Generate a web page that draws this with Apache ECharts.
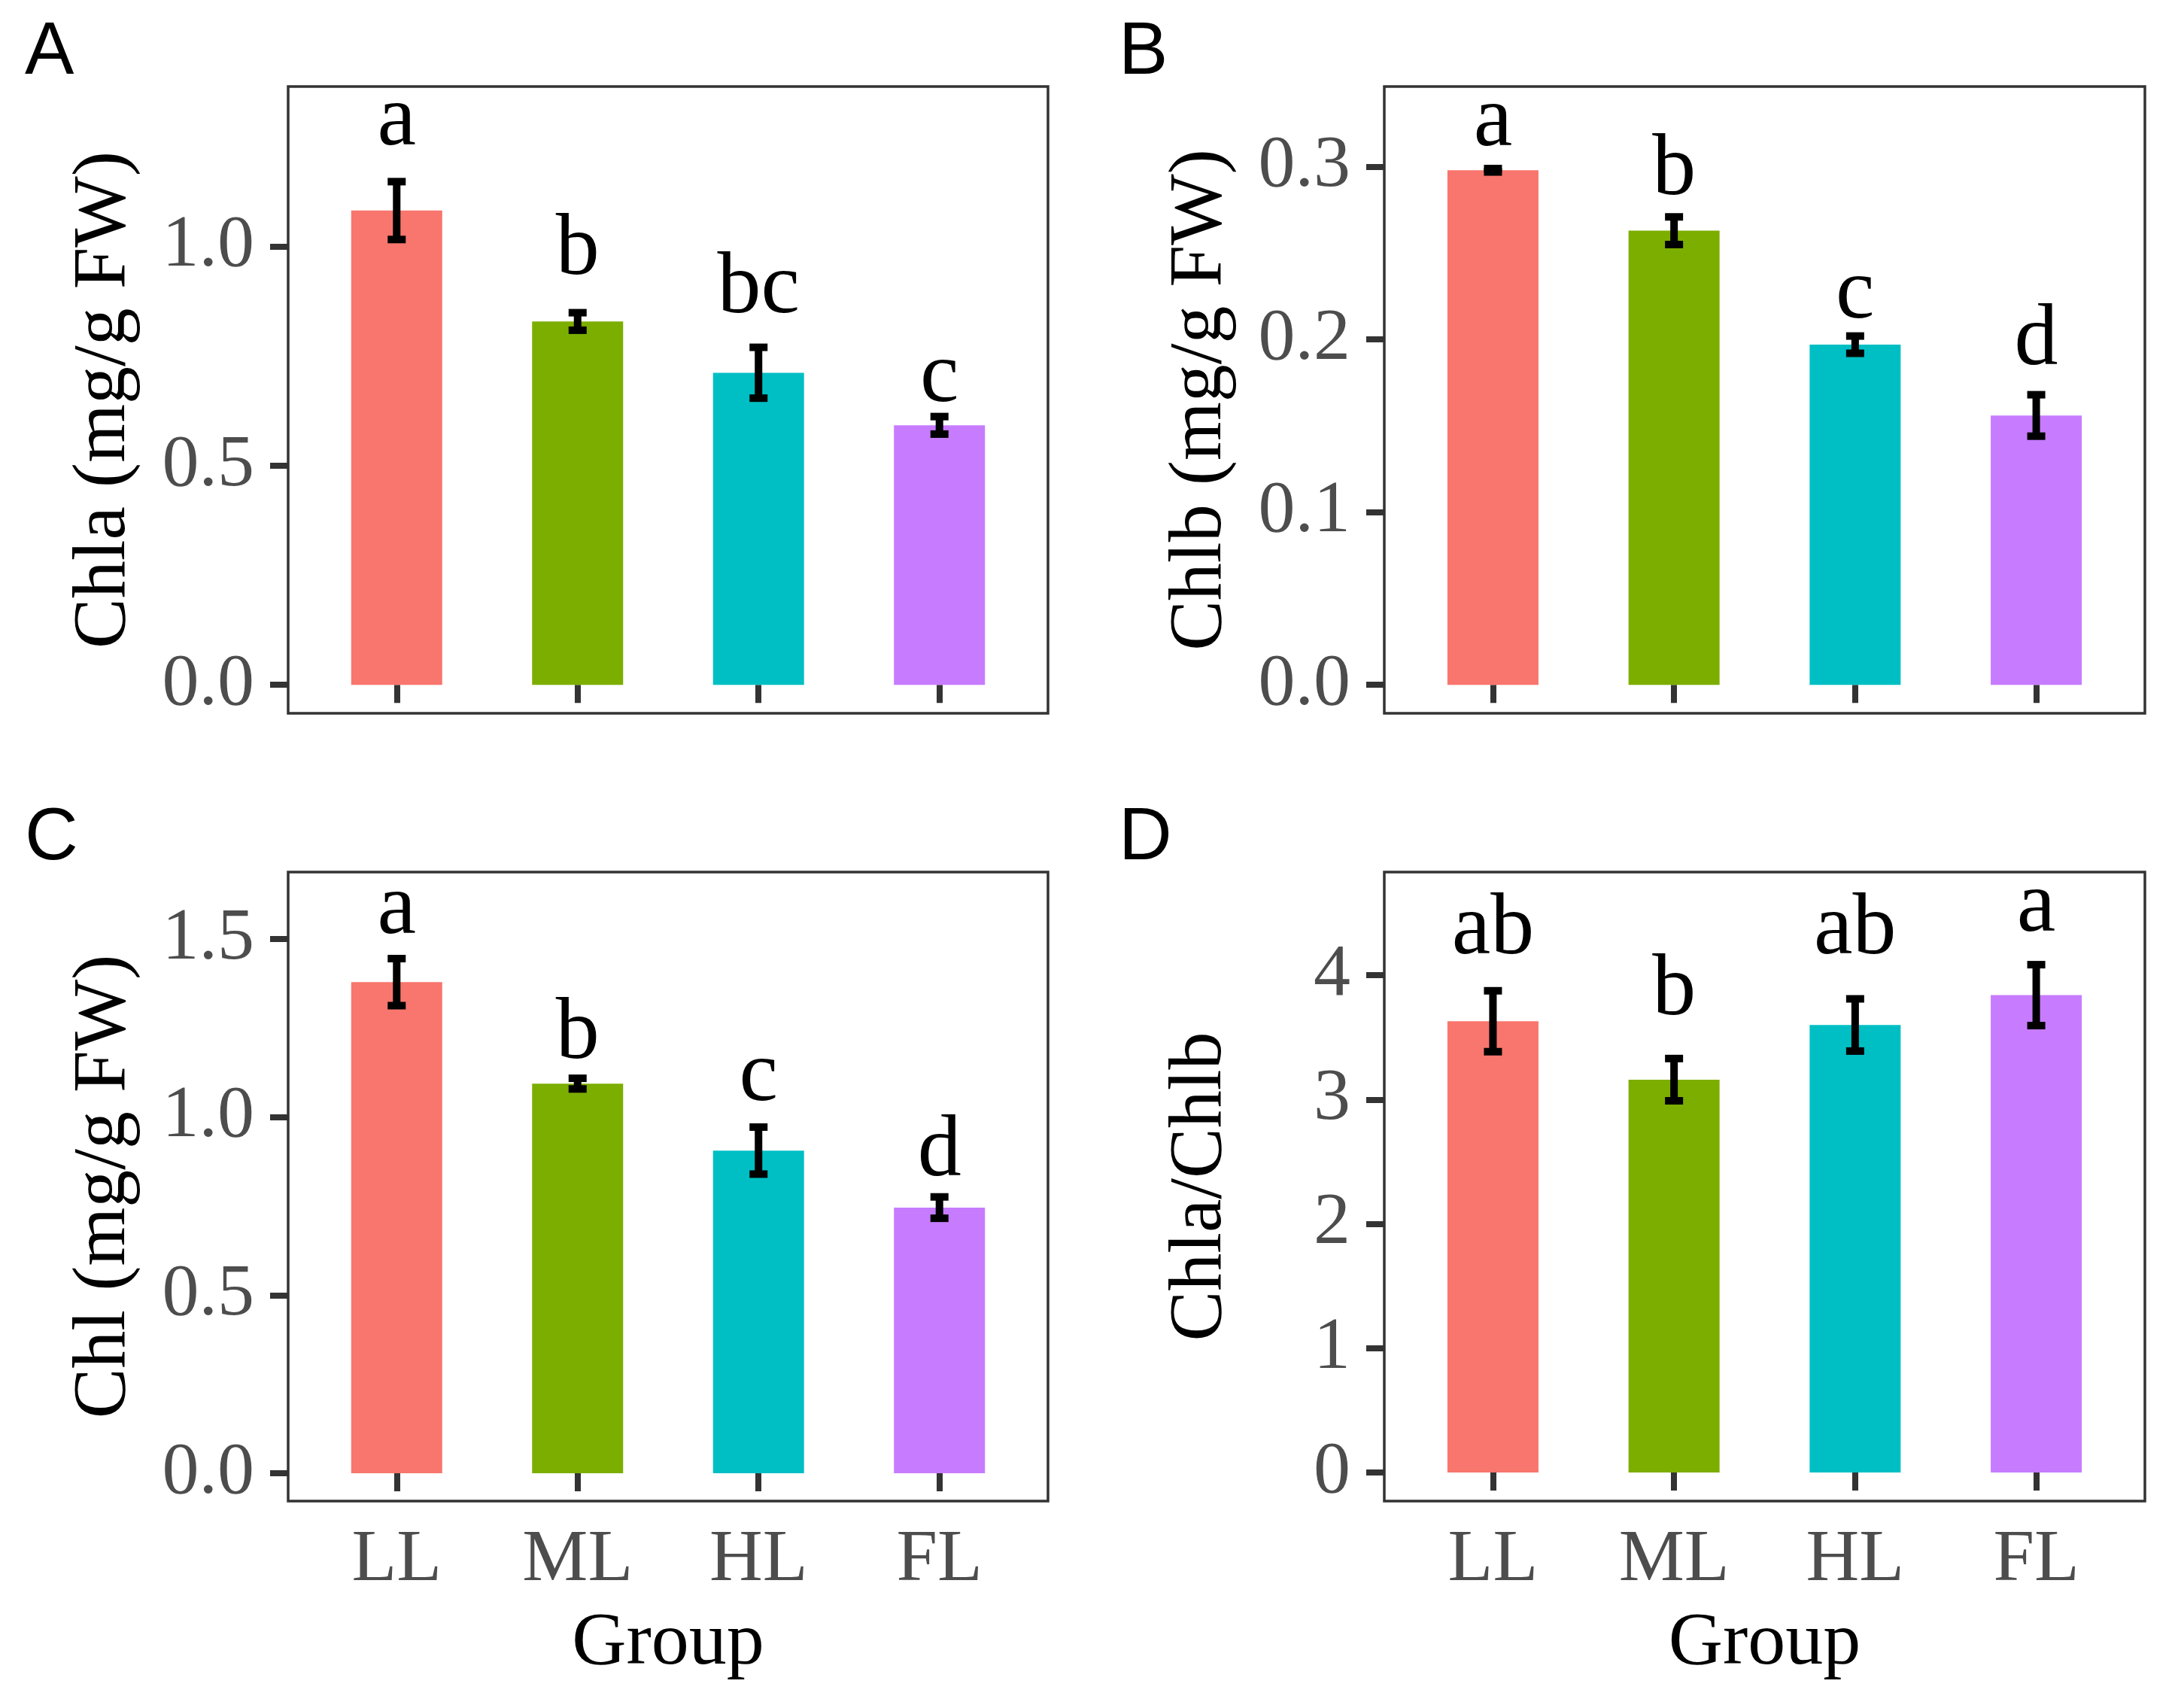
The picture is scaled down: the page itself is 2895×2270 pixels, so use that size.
<!DOCTYPE html>
<html>
<head>
<meta charset="utf-8">
<script src="https://cdn.jsdelivr.net/npm/echarts@6.0.0/dist/echarts.min.js"></script>
<style>
    html, body { margin: 0; padding: 0; background: #ffffff; }
    #chart { width: 2895px; height: 2270px; }
</style>
</head>
<body>
<div id="chart"></div>
<script>
// 数据
const groups = ["LL", "ML", "HL", "FL"];
const barColors = ["#F8766D", "#7CAE00", "#00BFC4", "#C77CFF"];

const chlaMean = [1.082, 0.829, 0.712, 0.592];
const chlaErr = [0.066, 0.020, 0.058, 0.020];
const chlaSig = ["a", "b", "bc", "c"];
const chlaSigY = [1.285, 0.99, 0.902, 0.70];
const chlaTicks = [0, 0.5, 1.0];

const chlbMean = [0.298, 0.263, 0.197, 0.156];
const chlbErr = [0.001, 0.008, 0.005, 0.012];
const chlbSig = ["a", "b", "c", "d"];
const chlbSigY = [0.3257, 0.2976, 0.2262, 0.199];
const chlbTicks = [0, 0.1, 0.2, 0.3];

const chlMean = [1.379, 1.094, 0.906, 0.746];
const chlErr = [0.066, 0.015, 0.066, 0.030];
const chlSig = ["a", "b", "c", "d"];
const chlSigY = [1.582, 1.23, 1.113, 0.902];
const chlTicks = [0, 0.5, 1.0, 1.5];

const ratioMean = [3.63, 3.16, 3.60, 3.84];
const ratioErr = [0.245, 0.170, 0.210, 0.245];
const ratioSig = ["ab", "b", "ab", "a"];
const ratioSigY = [4.36, 3.87, 4.36, 4.54];
const ratioTicks = [0, 1, 2, 3, 4];

const serif = "Liberation Serif";

// 四个面板
const panels = [
    {letter: "A", name: "Chla (mg/g FW)", mean: chlaMean, err: chlaErr, sig: chlaSig, sigY: chlaSigY,
        ticks: chlaTicks, min: -0.065, max: 1.365, digits: 1, bottom: false,
        grid: {left: 383, top: 115, width: 1010, height: 833}, lx: 33, ly: 22},
    {letter: "B", name: "Chlb (mg/g FW)", mean: chlbMean, err: chlbErr, sig: chlbSig, sigY: chlbSigY,
        ticks: chlbTicks, min: -0.0165, max: 0.3465, digits: 1, bottom: false,
        grid: {left: 1840, top: 115, width: 1011, height: 833}, lx: 1487, ly: 22},
    {letter: "C", name: "Chl (mg/g FW)", mean: chlMean, err: chlErr, sig: chlSig, sigY: chlSigY,
        ticks: chlTicks, min: -0.078, max: 1.688, digits: 1, bottom: true,
        grid: {left: 383, top: 1159, width: 1010, height: 836}, lx: 33, ly: 1066},
    {letter: "D", name: "Chla/Chlb", mean: ratioMean, err: ratioErr, sig: ratioSig, sigY: ratioSigY,
        ticks: ratioTicks, min: -0.23, max: 4.83, digits: 0, bottom: true,
        grid: {left: 1840, top: 1159, width: 1011, height: 836}, lx: 1487, ly: 1066}
];

const chart = echarts.init(document.getElementById("chart"));

const grids = [], xAxes = [], yAxes = [], series = [], graphics = [];

panels.forEach(function (p, i) {
    grids.push({
        left: p.grid.left, top: p.grid.top, width: p.grid.width, height: p.grid.height,
        show: true, borderColor: "#333333", borderWidth: 3.5, backgroundColor: "#ffffff"
    });
    xAxes.push({
        type: "value", gridIndex: i, min: 0.4, max: 4.6,
        name: p.bottom ? "Group" : "", nameLocation: "middle", nameGap: 140,
        nameTextStyle: {fontFamily: serif, fontSize: 100, color: "#000000"},
        axisLine: {show: false},
        splitLine: {show: false},
        axisTick: {show: true, length: 24, customValues: [1, 2, 3, 4],
            lineStyle: {color: "#333333", width: 8}},
        axisLabel: {show: p.bottom, customValues: [1, 2, 3, 4], margin: 30,
            fontFamily: serif, fontSize: 98, color: "#4D4D4D",
            formatter: function (v) { return groups[Math.round(v) - 1]; }}
    });
    yAxes.push({
        type: "value", gridIndex: i, min: p.min, max: p.max,
        name: p.name, nameLocation: "middle", nameGap: 194,
        nameTextStyle: {fontFamily: serif, fontSize: 100, color: "#000000"},
        axisLine: {show: false},
        splitLine: {show: false},
        axisTick: {show: true, length: 24, customValues: p.ticks,
            lineStyle: {color: "#333333", width: 8}},
        axisLabel: {customValues: p.ticks, margin: 45,
            fontFamily: serif, fontSize: 98, color: "#4D4D4D",
            formatter: function (v) { return v.toFixed(p.digits); }}
    });

    // 柱子
    series.push({
        type: "bar", xAxisIndex: i, yAxisIndex: i, barWidth: 121,
        data: p.mean.map(function (v, k) {
            return {value: [k + 1, v], itemStyle: {color: barColors[k]}};
        })
    });

    // 误差线
    series.push({
        type: "custom", xAxisIndex: i, yAxisIndex: i, z: 5,
        data: p.mean.map(function (v, k) { return [k + 1, v, p.err[k]]; }),
        renderItem: function (params, api) {
            const x = api.value(0), y = api.value(1), e = api.value(2);
            const hi = api.coord([x, y + e]);
            const lo = api.coord([x, y - e]);
            const half = 12;
            const style = {stroke: "#000000", lineWidth: 10};
            return {
                type: "group",
                children: [
                    {type: "line", shape: {x1: hi[0], y1: hi[1], x2: lo[0], y2: lo[1]}, style: style},
                    {type: "line", shape: {x1: hi[0] - half, y1: hi[1], x2: hi[0] + half, y2: hi[1]}, style: style},
                    {type: "line", shape: {x1: lo[0] - half, y1: lo[1], x2: lo[0] + half, y2: lo[1]}, style: style}
                ]
            };
        }
    });

    // 显著性字母
    series.push({
        type: "custom", xAxisIndex: i, yAxisIndex: i, z: 6,
        data: p.sigY.map(function (v, k) { return [k + 1, v, k]; }),
        renderItem: function (params, api) {
            const pt = api.coord([api.value(0), api.value(1)]);
            return {
                type: "text", x: pt[0], y: pt[1],
                style: {text: p.sig[api.value(2)], fontFamily: serif, fontSize: 116,
                    fill: "#000000", textAlign: "center", textVerticalAlign: "middle"}
            };
        }
    });

    graphics.push({
        type: "text", left: p.lx, top: p.ly,
        style: {text: p.letter, fontFamily: "Liberation Sans", fontSize: 98, fill: "#000000"}
    });
});

const option = {
    backgroundColor: "#ffffff",
    animation: false,
    grid: grids,
    xAxis: xAxes,
    yAxis: yAxes,
    series: series,
    graphic: graphics
};

chart.setOption(option);
</script>
</body>
</html>
